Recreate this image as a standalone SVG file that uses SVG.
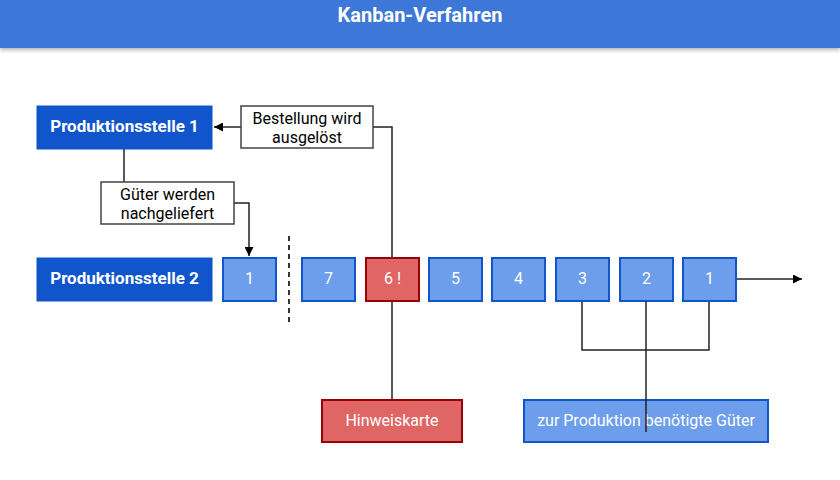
<svg xmlns="http://www.w3.org/2000/svg" width="840" height="480" viewBox="0 0 840 480">
<defs>
<style>
text{font-family:Roboto,"Liberation Sans",sans-serif}
.dk{fill:#1155cc;stroke:#1155cc}
.dkt{fill:#fff;font-weight:bold;font-size:17px}
.lb{fill:#6d9eeb;stroke:#1155cc;stroke-width:2}
.rd{fill:#e06666;stroke:#990000;stroke-width:2}
.wt{fill:#fff;font-size:16px}
.wb{fill:#fff;stroke:#434343;stroke-width:1.5}
.bk{fill:#000;font-size:16px}
.c{fill:none;stroke:#222;stroke-width:1.5}
</style>
<marker id="a" viewBox="0 0 10 10" refX="10" refY="5" markerWidth="6" markerHeight="6" orient="auto"><path d="M0,0L10,5L0,10z" fill="#000"/></marker>
<filter id="sh"><feDropShadow dx="0" dy="2" stdDeviation="2" flood-opacity="0.3"/></filter>
</defs>
<rect width="840" height="480" fill="#fff"/>
<rect x="0" y="0" width="840" height="48" fill="#3c78d8" filter="url(#sh)"/>
<text x="420" y="17" text-anchor="middle" dominant-baseline="middle" fill="#fff" font-size="20" font-weight="bold">Kanban-Verfahren</text>
<g id="connectors">
<path class="c" d="M392,258V127H373"/>
<path class="c" d="M241,127H214" marker-end="url(#a)"/>
<path class="c" d="M124,149V182"/>
<path class="c" d="M234,203H249V256" marker-end="url(#a)"/>
<path class="c" d="M736,279H802" marker-end="url(#a)"/>
<path d="M289,236V322" stroke="#333" stroke-width="2" stroke-dasharray="5,4"/>
<path class="c" d="M392,301V400"/>
<path class="c" d="M582,301V350H709V301"/>
</g>
<g id="ps1"><rect class="dk" x="37" y="106" width="175" height="43"/><text class="dkt" x="124.5" y="128" text-anchor="middle" dominant-baseline="middle">Produktionsstelle 1</text></g>
<g id="ps2"><rect class="dk" x="37" y="258" width="175" height="43"/><text class="dkt" x="124.5" y="280" text-anchor="middle" dominant-baseline="middle">Produktionsstelle 2</text></g>
<g id="bestellung"><rect class="wb" x="241" y="106" width="132" height="42"/><text class="bk" text-anchor="middle" x="307" y="124">Bestellung wird</text><text class="bk" text-anchor="middle" x="307" y="143">ausgelöst</text></g>
<g id="gueter"><rect class="wb" x="101" y="182" width="133" height="42"/><text class="bk" text-anchor="middle" x="167.5" y="200">Güter werden</text><text class="bk" text-anchor="middle" x="167.5" y="219">nachgeliefert</text></g>
<g id="b1a"><rect class="lb" x="223" y="258" width="53" height="43"/><text class="wt" x="249.5" y="280" text-anchor="middle" dominant-baseline="middle">1</text></g>
<g id="b7"><rect class="lb" x="302" y="258" width="53" height="43"/><text class="wt" x="328.5" y="280" text-anchor="middle" dominant-baseline="middle">7</text></g>
<g id="b6"><rect class="rd" x="366" y="258" width="53" height="43"/><text class="wt" x="392.5" y="280" text-anchor="middle" dominant-baseline="middle">6 !</text></g>
<g id="b5"><rect class="lb" x="429" y="258" width="53" height="43"/><text class="wt" x="455.5" y="280" text-anchor="middle" dominant-baseline="middle">5</text></g>
<g id="b4"><rect class="lb" x="492" y="258" width="53" height="43"/><text class="wt" x="518.5" y="280" text-anchor="middle" dominant-baseline="middle">4</text></g>
<g id="b3"><rect class="lb" x="556" y="258" width="53" height="43"/><text class="wt" x="582.5" y="280" text-anchor="middle" dominant-baseline="middle">3</text></g>
<g id="b2"><rect class="lb" x="620" y="258" width="53" height="43"/><text class="wt" x="646.5" y="280" text-anchor="middle" dominant-baseline="middle">2</text></g>
<g id="b1"><rect class="lb" x="683" y="258" width="53" height="43"/><text class="wt" x="709.5" y="280" text-anchor="middle" dominant-baseline="middle">1</text></g>
<g id="hinweis"><rect class="rd" x="322" y="400" width="140" height="42"/><text class="wt" x="392" y="422" text-anchor="middle" dominant-baseline="middle">Hinweiskarte</text></g>
<g id="zur"><rect class="lb" x="524" y="400" width="244" height="42"/><text class="wt" x="646" y="422" text-anchor="middle" dominant-baseline="middle">zur Produktion benötigte Güter</text></g>
<path class="c" d="M646,301V432" stroke-width="2"/>
</svg>
